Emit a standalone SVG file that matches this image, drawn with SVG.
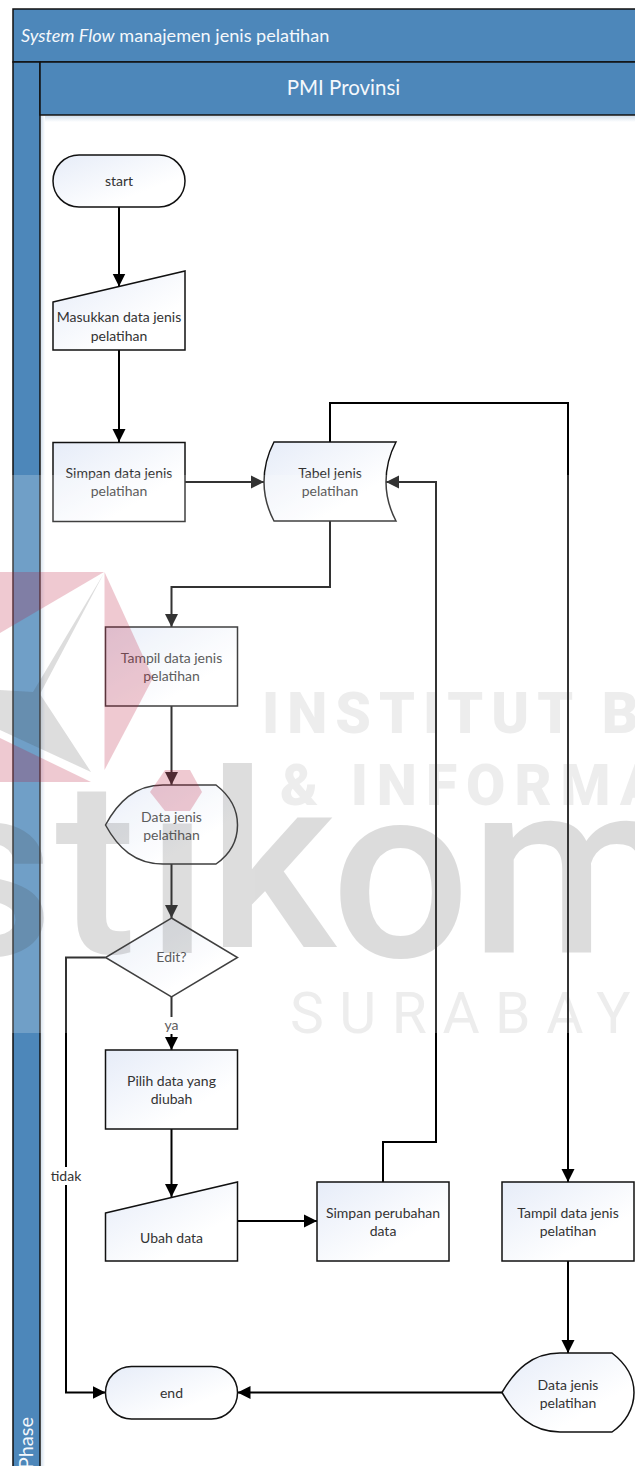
<svg xmlns="http://www.w3.org/2000/svg" width="635" height="1466" viewBox="0 0 635 1466">
<style>
text{font-family:Lato,"Liberation Sans",sans-serif}
.hd{fill:#4d87ba;stroke:#111;stroke-width:1.5}
.ht{fill:#f4f8fc;font-size:20px}
.n{fill:url(#nf);stroke:#111;stroke-width:1.5}
.t{fill:#333;font-size:14px;text-anchor:middle}
.c{fill:none;stroke:#000;stroke-width:2}
.a{marker-end:url(#arr)}
.wt{font-family:Roboto,"Liberation Sans",sans-serif;fill:#404040}
</style>
<defs>
<linearGradient id="nf" x1="0" y1="0" x2="1" y2="1"><stop offset="0" stop-color="#e6ecf8"/><stop offset=".7" stop-color="#fff"/></linearGradient>
<linearGradient id="sh" x1="0" y1="0" x2="0" y2="1"><stop offset="0" stop-color="#d4e1ee"/><stop offset="1" stop-color="#fff"/></linearGradient>
<linearGradient id="shl" x1="0" y1="0" x2="1" y2="0"><stop offset="0" stop-color="#d4e1ee"/><stop offset="1" stop-color="#fff"/></linearGradient>
<marker id="arr" markerUnits="userSpaceOnUse" markerWidth="14" markerHeight="14" refX="13" refY="7" orient="auto"><path d="M0 0.500L13 7L0 13.500Z" fill="#000"/></marker>
<clipPath id="nodot"><path clip-rule="evenodd" d="M-100 700H700V1000H-100ZM145 750H215V816H145Z"/></clipPath>
</defs>
<rect width="635" height="1466" fill="#fff"/>
<g id="pool">
<rect class="hd" x="13" y="9" width="630" height="53"/>
<rect class="hd" x="13" y="62" width="27" height="1420"/>
<rect class="hd" x="40" y="62" width="603" height="53"/>
<rect x="41" y="116" width="594" height="6" fill="url(#sh)"/>
<rect x="41" y="116" width="4" height="1350" fill="url(#shl)"/>
<text class="ht" x="21" y="42" style="font-size:18.100px"><tspan font-style="italic">System Flow</tspan> manajemen jenis pelatihan</text>
<text class="ht" x="343.500" y="95" text-anchor="middle" style="font-size:20.500px">PMI Provinsi</text>
<text class="ht" transform="translate(33 1417) rotate(-90)" text-anchor="end">Phase</text>
</g>
<g id="connectors">
<path class="c a" d="M119 207V286.500"/>
<path class="c a" d="M119 350V442"/>
<path class="c a" d="M185 482H264"/>
<path class="c a" d="M330 442V403H568V1182"/>
<path class="c a" d="M330 521V587H171.500V627"/>
<path class="c a" d="M171.500 706V785"/>
<path class="c a" d="M171.500 864V918"/>
<path class="c a" d="M171.500 997V1050"/>
<path class="c a" d="M171.500 1129V1197"/>
<path class="c a" d="M237.500 1221H317"/>
<path class="c a" d="M383 1182V1142H436V482H386"/>
<path class="c a" d="M105.500 957.500H66V1392.500H105.500"/>
<path class="c a" d="M568 1261V1353"/>
<path class="c a" d="M502 1392.500H237.500"/>
<g id="label-ya"><rect x="162" y="1017" width="19" height="17" fill="#fff"/><text class="t" x="171.500" y="1030">ya</text></g>
<g id="label-tidak"><rect x="50" y="1167" width="32" height="18" fill="#fff"/><text class="t" x="66" y="1181">tidak</text></g>
</g>
<g id="start"><rect class="n" x="53" y="155" width="132" height="52" rx="26"/><text class="t" x="119" y="186">start</text></g>
<g id="masukkan"><path class="n" d="M53 302L185 271V350H53Z"/><text class="t" x="119" y="322">Masukkan data jenis</text><text class="t" x="119" y="341">pelatihan</text></g>
<g id="simpan"><rect class="n" x="53" y="442.500" width="132" height="79"/><text class="t" x="119" y="478">Simpan data jenis</text><text class="t" x="119" y="496">pelatihan</text></g>
<g id="tabel"><path class="n" d="M274 442H396Q386 461 386 482Q386 502 396 521H274Q264 502 264 482Q264 461 274 442Z"/><text class="t" x="330" y="478">Tabel jenis</text><text class="t" x="330" y="496">pelatihan</text></g>
<g id="tampil1"><rect class="n" x="105.500" y="627" width="132" height="79"/><text class="t" x="171.500" y="663">Tampil data jenis</text><text class="t" x="171.500" y="681">pelatihan</text></g>
<g id="data1"><path class="n" d="M105.500 825C118 802 135 785 163 785H216C229 795 237.500 808 237.500 825C237.500 842 229 855 216 864H163C135 864 118 848 105.500 825Z"/><text class="t" x="171.500" y="822">Data jenis</text><text class="t" x="171.500" y="840">pelatihan</text></g>
<g id="edit"><path class="n" d="M171.500 918L237.500 957.500L171.500 997L105.500 957.500Z"/><text class="t" x="171.500" y="962">Edit?</text></g>
<g id="pilih"><rect class="n" x="105.500" y="1050" width="132" height="79"/><text class="t" x="171.500" y="1086">Pilih data yang</text><text class="t" x="171.500" y="1104">diubah</text></g>
<g id="ubah"><path class="n" d="M105.500 1213L237.500 1182V1261H105.500Z"/><text class="t" x="171.500" y="1243">Ubah data</text></g>
<g id="simpan2"><rect class="n" x="317" y="1182" width="132" height="79"/><text class="t" x="383" y="1218">Simpan perubahan</text><text class="t" x="383" y="1236">data</text></g>
<g id="tampil2"><rect class="n" x="502" y="1182" width="132" height="79"/><text class="t" x="568" y="1218">Tampil data jenis</text><text class="t" x="568" y="1236">pelatihan</text></g>
<g id="data2"><path class="n" d="M502 1392.500C515 1370 532 1353 560 1353H612C625 1363 634 1376 634 1392.500C634 1409 625 1423 612 1432H560C532 1432 515 1415 502 1392.500Z"/><text class="t" x="568" y="1390">Data jenis</text><text class="t" x="568" y="1408">pelatihan</text></g>
<g id="end"><rect class="n" x="105.500" y="1366.500" width="132" height="52.500" rx="26"/><text class="t" x="171.500" y="1398">end</text></g>
<g id="watermark">
<rect x="0" y="475" width="635" height="558" fill="#fff" opacity=".2"/>
<g fill="#b90f32" opacity=".22">
<path d="M0 572H104L0 633Z"/>
<path d="M104.500 572L153 678L104.500 770Z"/>
<path d="M0 738L91 782H0Z"/>
<path d="M165 770H190L202 792L190 811H165L150 792Z"/>
</g>
<path d="M0 690L33 692L104 573L40 694L91 772L0 730Z" fill="#404040" opacity=".175"/>
<text class="wt" opacity=".175" font-size="245" font-weight="500" x="-72 55 146 208 331 470" y="955 953 953 947 957 953" clip-path="url(#nodot)">stikom</text>
<g opacity=".09" font-weight="900">
<text class="wt" x="262" y="733" font-size="57" letter-spacing="8">INSTITUT B</text>
<text class="wt" x="280" y="805" font-size="57" letter-spacing="9">&amp; INFORMA</text>
</g>
<text class="wt" x="290" y="1033" font-size="57" letter-spacing="15.500" opacity=".09">SURABAY</text>
</g>
</svg>
